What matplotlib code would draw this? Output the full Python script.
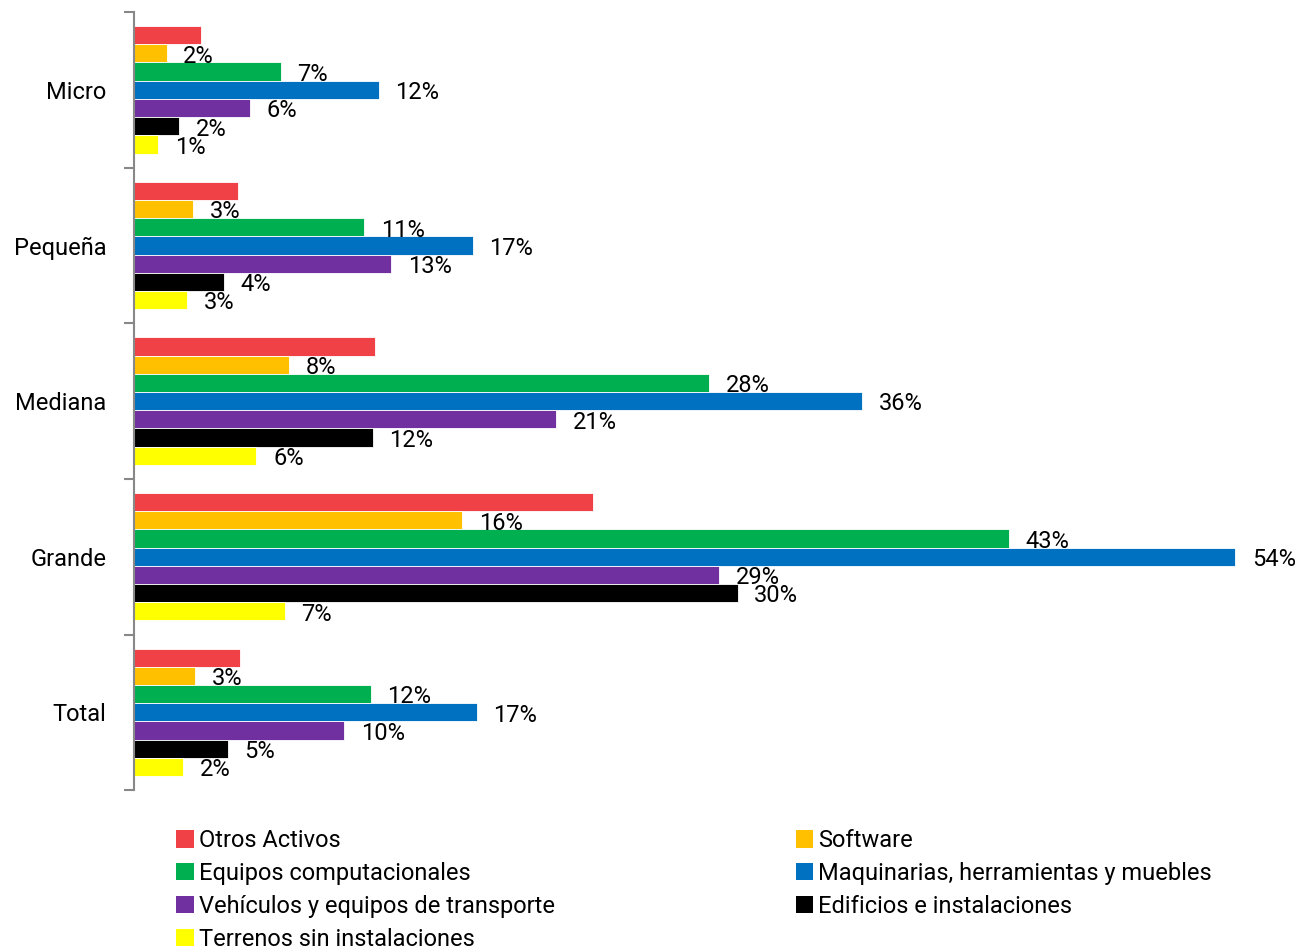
import matplotlib
matplotlib.use("Agg")
import matplotlib.pyplot as plt
import numpy as np
from matplotlib.patches import Patch

plt.rcParams["font.family"] = ["Roboto", "DejaVu Sans"]

# data (percent)
categories = ["Micro", "Pequeña", "Mediana", "Grande", "Total"]
series_names = [
    "Otros Activos",
    "Software",
    "Equipos computacionales",
    "Maquinarias, herramientas y muebles",
    "Vehículos y equipos de transporte",
    "Edificios e instalaciones",
    "Terrenos sin instalaciones",
]
otros = [3.3, 5.1, 11.8, 22.5, 5.2]
software = [1.6, 2.9, 7.6, 16.1, 3.0]
equipos = [7.2, 11.3, 28.2, 42.9, 11.6]
maquinarias = [12.0, 16.6, 35.7, 54.0, 16.8]
vehiculos = [5.7, 12.6, 20.7, 28.7, 10.3]
edificios = [2.2, 4.4, 11.7, 29.6, 4.6]
terrenos = [1.2, 2.6, 6.0, 7.4, 2.4]
series_values = [otros, software, equipos, maquinarias, vehiculos, edificios, terrenos]
colors = ["#EF4146", "#FFC000", "#00B050", "#0070C0", "#7030A0", "#000000", "#FFFF00"]
show_label = [False, True, True, True, True, True, True]

fig = plt.figure(figsize=(13.05, 9.52), dpi=100)
ax = fig.add_axes([0.1027, 0.170, 0.875, 0.8174])

n = len(series_names)
h = 0.117
y = np.arange(len(categories))
for i, (vals, c) in enumerate(zip(series_values, colors)):
    pos = y - (n - 1) / 2 * h + i * h
    bars = ax.barh(pos, vals, height=h, color=c, edgecolor="white", linewidth=0.6)
    if show_label[i]:
        for b, v in zip(bars, vals):
            ax.annotate(f"{v:.0f}%", (v, b.get_y() + b.get_height() / 2),
                        xytext=(12, -2), textcoords="offset points",
                        va="center", ha="left", fontsize=17)

ax.set_xlim(0, 56)
ax.set_ylim(len(categories) - 0.5, -0.5)
ax.set_yticks(y)
ax.set_yticklabels(categories, fontsize=17)
ax.set_yticks(np.arange(-0.5, len(categories)), minor=True)
ax.tick_params(axis="y", which="major", length=0, pad=20)
ax.tick_params(axis="y", which="minor", length=7, color="#888888", width=1.5)
ax.set_xticks([])
for s in ("top", "right", "bottom"):
    ax.spines[s].set_visible(False)
ax.spines["left"].set_color("#888888")
ax.spines["left"].set_linewidth(1.5)

handles = [Patch(facecolor=c) for c in colors]
order = [0, 2, 4, 6, 1, 3, 5]
fig.legend([handles[k] for k in order], [series_names[k] for k in order],
           loc="upper left", bbox_to_anchor=(0.128, 0.139), ncol=2, frameon=False,
           fontsize=17, handlelength=0.75, handleheight=0.75, handletextpad=0.2,
           columnspacing=10.2, labelspacing=0.42, borderaxespad=0)

fig.savefig("out.png", dpi=100)
